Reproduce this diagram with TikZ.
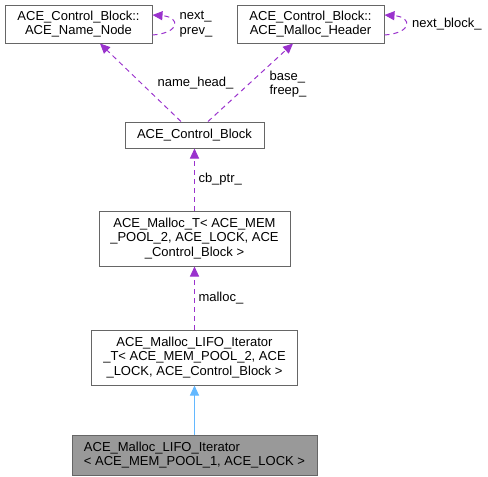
\documentclass[tikz,border=0pt]{standalone}
\usepackage{fontspec}
\setmainfont{Liberation Sans}
\usetikzlibrary{arrows.meta}
\usetikzlibrary{positioning}
\definecolor{boxgray}{HTML}{666666}
\definecolor{usecol}{HTML}{9A32CD}
\definecolor{inhcol}{HTML}{63B8FF}
\definecolor{thisfill}{HTML}{999999}

\begin{document}
\begin{tikzpicture}[x=1pt, y=-1pt, node distance=62pt,
	font=\fontsize{13pt}{14.5pt}\selectfont,
	cls/.style={rectangle, draw=boxgray, fill=white, line width=1pt, inner sep=0pt, align=center},
	this/.style={cls, fill=thisfill, align=left},
	usage/.style={draw=usecol, line width=1pt, dash pattern=on 5pt off 4pt, -{Triangle[length=10pt, width=9pt]}},
	inherit/.style={draw=inhcol, line width=1pt, -{Triangle[length=10pt, width=9pt]}},
	lbl/.style={inner sep=0pt, align=left},
]
\useasboundingbox (0,0) rectangle (488,477);
\node [cls, minimum width=147pt, minimum height=38pt] (NN) at (78.5,24) {ACE\_Control\_Block::\\ACE\_Name\_Node};
\node [cls, minimum width=147pt, minimum height=38pt] (MH) at (310.5,24) {ACE\_Control\_Block::\\ACE\_Malloc\_Header};
\node [cls, minimum width=139pt, minimum height=26pt] (CB) at (194.5,135) {ACE\_Control\_Block};
\node [cls, minimum width=191pt, minimum height=55pt] (MT) [below=62pt of CB] {ACE\_Malloc\_T< ACE\_MEM\\\_POOL\_2, ACE\_LOCK, ACE\\\_Control\_Block >};
\node [cls, minimum width=206pt, minimum height=55pt] (LT) [below=63pt of MT] {ACE\_Malloc\_LIFO\_Iterator\\\_T< ACE\_MEM\_POOL\_2, ACE\\\_LOCK, ACE\_Control\_Block >};
\node [this, minimum width=245pt, minimum height=40pt] (IT) [below=49pt of LT] {ACE\_Malloc\_LIFO\_Iterator\\< ACE\_MEM\_POOL\_1, ACE\_LOCK >};
%
\draw [inherit] (IT) -- (LT);
\draw [usage] (LT) -- node [lbl, right=3.5pt] {malloc\_} (MT);
\draw [usage] (MT) -- node [lbl, right=3.5pt] {cb\_ptr\_} (CB);
\draw [usage] ([xshift=-13.5pt]CB.north) -- ([xshift=21.5pt]NN.south);
\draw [usage] ([xshift=13.5pt]CB.north) -- ([xshift=-17.5pt]MH.south);
\draw [usage] ([yshift=-11pt]NN.east) .. controls +(28,-2) and +(28,2) .. ([yshift=9pt]NN.east);
\draw [usage] ([yshift=-11pt]MH.east) .. controls +(28,-2) and +(28,2) .. ([yshift=9pt]MH.east);
%
\node [lbl] (lnh) at (195.5,83) {name\_head\_};
\node [lbl] (lbf) at (288,84) {base\_\\freep\_};
\node [lbl] (lnp) at (196,24) {next\_\\prev\_};
\node [lbl, anchor=west] (lnb) at (412,24) {next\_block\_};
\end{tikzpicture}
\end{document}
